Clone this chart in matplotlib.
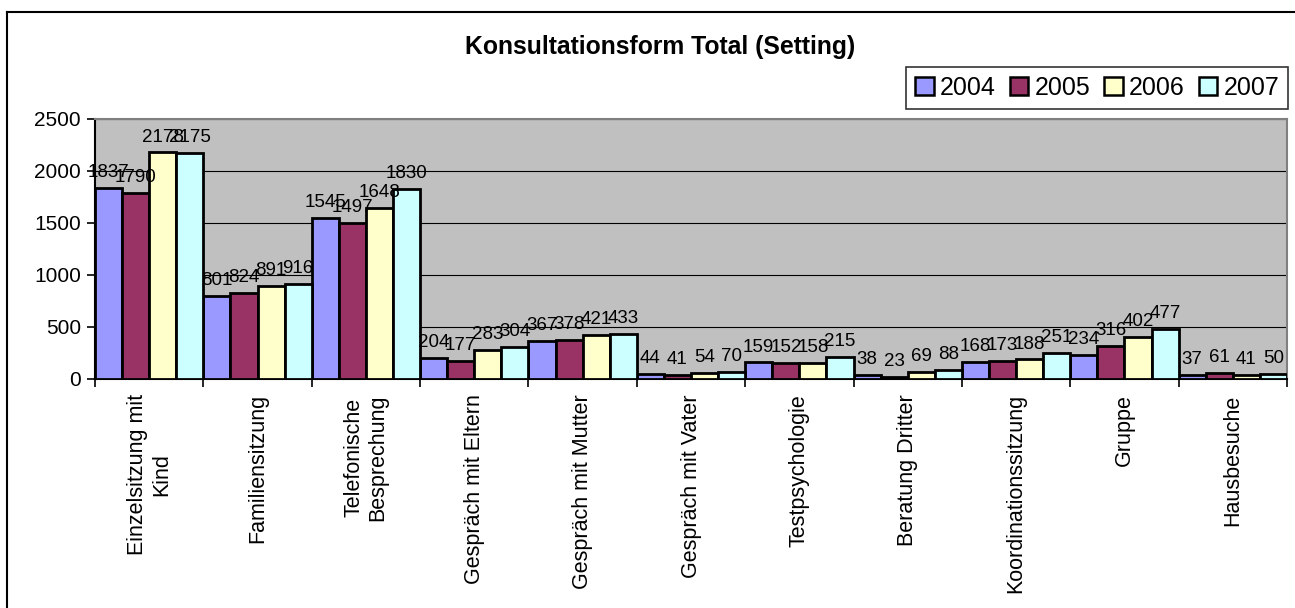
import numpy as np
import matplotlib
matplotlib.use("Agg")
import matplotlib.pyplot as plt
from matplotlib.lines import Line2D

plt.rcParams['font.family'] = ['Liberation Sans', 'DejaVu Sans']

categories = ["Einzelsitzung mit\nKind", "Familiensitzung", "Telefonische\nBesprechung",
              "Gespräch mit Eltern", "Gespräch mit Mutter", "Gespräch mit Vater",
              "Testpsychologie", "Beratung Dritter", "Koordinationssitzung",
              "Gruppe", "Hausbesuche"]
years = ["2004", "2005", "2006", "2007"]
v2004 = [1837, 801, 1545, 204, 367, 44, 159, 38, 168, 234, 37]
v2005 = [1790, 824, 1497, 177, 378, 41, 152, 23, 173, 316, 61]
v2006 = [2178, 891, 1648, 283, 421, 54, 158, 69, 188, 402, 41]
v2007 = [2175, 916, 1830, 304, 433, 70, 215, 88, 251, 477, 50]
colors = ["#9999FF", "#993366", "#FFFFCC", "#CCFFFF"]

W, H = 1295, 608
fig = plt.figure(figsize=(W / 100, H / 100), dpi=100)
ax = fig.add_axes([95 / W, 1 - 379 / H, (1287 - 95) / W, (379 - 119) / H])
ax.set_facecolor("#C0C0C0")

x = np.arange(len(categories))
bw = 0.25
series = [v2004, v2005, v2006, v2007]
for i, vals in enumerate(series):
    pos = x - 0.375 + i * bw
    ax.bar(pos, vals, bw, color=colors[i], edgecolor="black", linewidth=2,
           label=years[i], zorder=3)
    for px, v in zip(pos, vals):
        ax.annotate(str(v), (px, v), xytext=(0, 5), textcoords="offset points",
                    ha="center", va="bottom", fontsize=13.5, zorder=4)

ax.set_xlim(-0.5, len(categories) - 0.5)
ax.set_ylim(0, 2500)
ax.set_yticks(np.arange(0, 2501, 500))
ax.yaxis.grid(True, color="black", linewidth=0.8, zorder=1)
ax.set_axisbelow(True)
ax.tick_params(axis="y", direction="out", length=6, width=1.2, labelsize=15, pad=4)

ax.set_xticks(x)
ax.set_xticklabels(categories, rotation=90, fontsize=15.5, va="top", ha="center",
                   multialignment="center")
ax.tick_params(axis="x", which="major", length=0, pad=11)
ax.set_xticks(np.arange(-0.5, len(categories), 1), minor=True)
ax.tick_params(axis="x", which="minor", direction="out", length=6, width=1.2)

for s in ["top", "right"]:
    ax.spines[s].set_color("#808080")
    ax.spines[s].set_linewidth(1.5)
for s in ["left", "bottom"]:
    ax.spines[s].set_color("black")
    ax.spines[s].set_linewidth(1.5)

fig.text(660 / W, 1 - 47 / H, "Konsultationsform Total (Setting)", ha="center",
         va="center", fontsize=17.8, fontweight="bold")

leg = fig.legend(loc="upper right", bbox_to_anchor=(1288 / W, 1 - 67 / H), ncol=4,
                 fontsize=18, frameon=True, fancybox=False, handlelength=0.75,
                 handleheight=0.75, handletextpad=0.25, columnspacing=0.55,
                 borderpad=0.35, borderaxespad=0)
leg.get_frame().set_edgecolor("black")
leg.get_frame().set_linewidth(1.2)
for h in leg.legend_handles:
    h.set_linewidth(1.8)

fig.add_artist(Line2D([7 / W, 1], [1 - 12 / H, 1 - 12 / H], color="black", linewidth=1.5,
                      transform=fig.transFigure))
fig.add_artist(Line2D([7 / W, 7 / W], [0, 1 - 12 / H], color="black", linewidth=1.5,
                      transform=fig.transFigure))

fig.savefig("out.png", dpi=100)
